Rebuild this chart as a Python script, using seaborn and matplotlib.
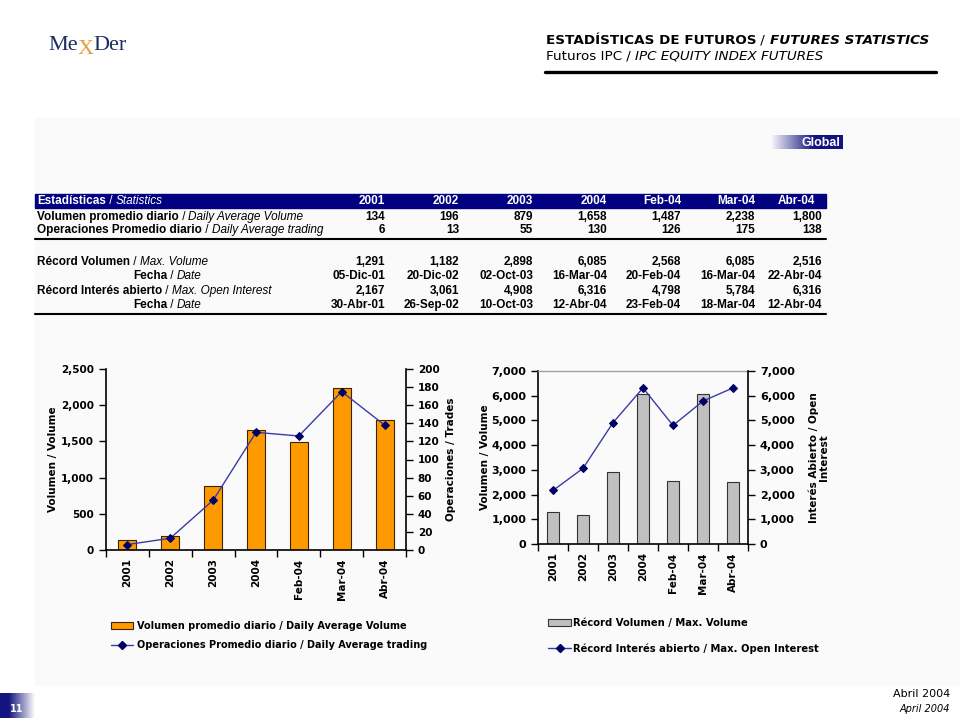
import numpy as np
import pandas as pd
import matplotlib
matplotlib.use('Agg')
import matplotlib.pyplot as plt
import matplotlib.ticker as ticker
from matplotlib.patches import Rectangle, Patch
from matplotlib.lines import Line2D
import seaborn as sns

# Data
categories = ['2001', '2002', '2003', '2004', 'Feb-04', 'Mar-04', 'Abr-04']
avg_volume = [134, 196, 879, 1658, 1487, 2238, 1800]
avg_trades = [6, 13, 55, 130, 126, 175, 138]
record_volume = [1291, 1182, 2898, 6085, 2568, 6085, 2516]
record_volume_date = ['05-Dic-01', '20-Dic-02', '02-Oct-03', '16-Mar-04', '20-Feb-04', '16-Mar-04', '22-Abr-04']
record_oi = [2167, 3061, 4908, 6316, 4798, 5784, 6316]
record_oi_date = ['30-Abr-01', '26-Sep-02', '10-Oct-03', '12-Abr-04', '23-Feb-04', '18-Mar-04', '12-Abr-04']

sns.set_theme(style='white')
plt.rcParams['font.family'] = ['DejaVu Sans']
plt.rcParams['text.color'] = 'black'
plt.rcParams['axes.labelcolor'] = 'black'
plt.rcParams['xtick.color'] = 'black'
plt.rcParams['ytick.color'] = 'black'

NAVY = '#000080'
ORANGE = '#FF9900'
LINE_BLUE = '#3b3ba8'
MARK_BLUE = '#000066'
TABLE_FONT = ['Liberation Sans']

fig = plt.figure(figsize=(9.6, 7.2), dpi=100)
fig.patch.set_facecolor('white')
renderer = fig.canvas.get_renderer()

# background axes in pixel coordinates
bg = fig.add_axes([0, 0, 1, 1])
bg.set_xlim(0, 960)
bg.set_ylim(720, 0)
bg.axis('off')


def runs(x, y, parts, size, color='black', family=None):
    # write text pieces one after the other on one line
    cx = x
    for s, w, st in parts:
        t = bg.text(cx, y, s, fontsize=size, fontweight=w, fontstyle=st, color=color,
                    va='center', ha='left', family=family)
        cx += t.get_window_extent(renderer=renderer).width
    return cx


def gradient(x0, x1, y0, y1, reverse=False, full=0.75):
    n = 200
    f = np.clip(np.linspace(0, 1, n) / full, 0, 1)
    if reverse:
        f = f[::-1]
    c0 = np.array([1.0, 1.0, 1.0])
    c1 = np.array([0x14, 0x14, 0x80]) / 255
    arr = c0[None, :] * (1 - f[:, None]) + c1[None, :] * f[:, None]
    bg.imshow(arr[None, :, :], extent=(x0, x1, y1, y0), aspect='auto', zorder=2)


# faint panel
bg.add_patch(Rectangle((35, 118), 925, 567, color='#fafafa', zorder=0))

# logo
LOGO = ['Liberation Serif']
cx = runs(48, 46, [('Me', 'normal', 'normal')], 16, color='#1c2d5e', family=LOGO)
t = bg.text(cx, 49, 'X', fontsize=16, color='#e0a040', va='center', ha='left', family=LOGO)
cx += t.get_window_extent(renderer=renderer).width
runs(cx, 46, [('Der', 'normal', 'normal')], 16, color='#1c2d5e', family=LOGO)

# header
runs(546, 40, [('ESTADÍSTICAS DE FUTUROS', 'bold', 'normal'), (' / ', 'normal', 'normal'),
               ('FUTURES STATISTICS', 'bold', 'italic')], 9.7)
runs(546, 56, [('Futuros IPC', 'normal', 'normal'), (' / ', 'normal', 'normal'),
               ('IPC EQUITY INDEX FUTURES', 'normal', 'italic')], 9.7)
bg.plot([545, 936], [72, 72], color='black', lw=2.4)

# "Global" tab
gradient(770, 843, 135, 149, full=0.6)
bg.text(840, 142.5, 'Global', color='white', fontsize=9, fontweight='bold', ha='right', va='center',
        family=TABLE_FONT, zorder=3)

# table
col_right = [385, 459, 533, 607, 681, 755, 822]
bg.add_patch(Rectangle((35, 194), 791, 13.5, color=NAVY, zorder=1))
runs(37, 201, [('Estadísticas', 'bold', 'normal'), (' / ', 'normal', 'normal'),
               ('Statistics', 'normal', 'italic')], 8.5, color='white', family=TABLE_FONT)
for c, xr in zip(categories, col_right):
    bg.text(xr if c != 'Abr-04' else 815, 201, c, color='white', fontsize=8.5, fontweight='bold',
            ha='right', va='center', family=TABLE_FONT)

table_rows = [
    (217, 37, 'Volumen promedio diario', 'Daily Average Volume', [f'{v:,}' for v in avg_volume]),
    (230, 37, 'Operaciones Promedio diario', 'Daily Average trading', [f'{v:,}' for v in avg_trades]),
    (262, 37, 'Récord Volumen', 'Max. Volume', [f'{v:,}' for v in record_volume]),
    (276, 133, 'Fecha', 'Date', record_volume_date),
    (291, 37, 'Récord Interés abierto', 'Max. Open Interest', [f'{v:,}' for v in record_oi]),
    (305, 133, 'Fecha', 'Date', record_oi_date),
]
for y, x0, es, en, vals in table_rows:
    runs(x0, y, [(es, 'bold', 'normal'), (' / ', 'normal', 'normal'), (en, 'normal', 'italic')],
         8.5, family=TABLE_FONT)
    for v, xr in zip(vals, col_right):
        bg.text(xr, y, v, fontsize=8.5, fontweight='bold', ha='right', va='center', family=TABLE_FONT)
bg.plot([35, 826], [239, 239], color='black', lw=1.5)
bg.plot([35, 826], [314, 314], color='black', lw=1.5)

# footer
gradient(0, 35, 693, 718, reverse=True)
bg.text(17, 709, '11', color='white', fontsize=7, fontweight='bold', ha='center', va='center', zorder=3)
bg.text(950, 694, 'Abril 2004', fontsize=8, ha='right', va='center')
bg.text(950, 709, 'April 2004', fontsize=7, fontstyle='italic', ha='right', va='center')

fmt = ticker.FuncFormatter(lambda v, _: f'{int(v):,}')
xpos = np.arange(len(categories))


def style_axes(ax, ax2, tick_size, xtick_size):
    ax.set_facecolor('none')
    ax.set_xlim(-0.5, len(categories) - 0.5)
    ax.set_xticks(np.arange(-0.5, len(categories), 1))
    ax.set_xticklabels([])
    ax.set_xticks(xpos, minor=True)
    ax.set_xticklabels(categories, minor=True, rotation=90, fontsize=xtick_size, fontweight='bold')
    ax.tick_params(axis='x', which='major', direction='out', length=5, width=1, color='black', bottom=True)
    ax.tick_params(axis='x', which='minor', length=0, pad=6)
    ax.set_xlabel('')
    for a, side in ((ax, 'left'), (ax2, 'right')):
        a.yaxis.set_major_formatter(fmt)
        a.tick_params(axis='y', direction='out', length=5, width=1, color='black', labelsize=tick_size)
        if side == 'left':
            a.tick_params(axis='y', left=True)
        else:
            a.tick_params(axis='y', right=True)
        for lab in a.get_yticklabels():
            lab.set_fontweight('bold')
    for a in (ax, ax2):
        for s in a.spines.values():
            s.set_visible(False)
    for s in ('left', 'bottom'):
        ax.spines[s].set_visible(True)
        ax.spines[s].set_color('black')
        ax.spines[s].set_linewidth(1.2)
    ax2.spines['right'].set_visible(True)
    ax2.spines['right'].set_color('black')
    ax2.spines['right'].set_linewidth(1.2)


# left chart
df1 = pd.DataFrame({'periodo': categories, 'volumen': avg_volume, 'operaciones': avg_trades})
ax = fig.add_axes([106 / 960, (720 - 550) / 720, 300 / 960, 181 / 720])
sns.barplot(data=df1, x='periodo', y='volumen', ax=ax, color=ORANGE, saturation=1, width=0.42,
            edgecolor='#3a2500', linewidth=0.8)
ax2 = ax.twinx()
sns.lineplot(x=xpos, y=df1['operaciones'], ax=ax2, color=LINE_BLUE, lw=1, marker='D', markersize=4,
             markerfacecolor=MARK_BLUE, markeredgecolor=MARK_BLUE)
ax.set_ylim(0, 2500)
ax.set_yticks(np.arange(0, 2501, 500))
ax2.set_ylim(0, 200)
ax2.set_yticks(np.arange(0, 201, 20))
style_axes(ax, ax2, 7.5, 7.5)
ax.set_ylabel('Volumen / Volume', fontsize=7.5, fontweight='bold')
ax.yaxis.set_label_coords(-0.16, 0.5)
ax2.set_ylabel('Operaciones / Trades', fontsize=7.5, fontweight='bold')
ax2.yaxis.set_label_coords(1.133, 0.5)
ax2.legend(handles=[Patch(facecolor=ORANGE, edgecolor='#3a2500', lw=0.8),
                    Line2D([], [], color=LINE_BLUE, lw=1, marker='D', markersize=4,
                           markerfacecolor=MARK_BLUE, markeredgecolor=MARK_BLUE)],
           labels=['Volumen promedio diario / Daily Average Volume',
                   'Operaciones Promedio diario / Daily Average trading'],
           loc='upper left', bbox_to_anchor=(111 / 960, (720 - 621) / 720), bbox_transform=fig.transFigure,
           frameon=False, borderpad=0, borderaxespad=0, handlelength=2.3, handleheight=0.8,
           handletextpad=0.4, labelspacing=0.95, prop={'size': 7, 'weight': 'bold'})

# right chart
df2 = pd.DataFrame({'periodo': categories, 'volumen': record_volume, 'interes': record_oi})
bx = fig.add_axes([538 / 960, (720 - 544) / 720, 210 / 960, 173 / 720])
sns.barplot(data=df2, x='periodo', y='volumen', ax=bx, color='#C0C0C0', saturation=1, width=0.43,
            edgecolor='#333333', linewidth=0.8)
bx2 = bx.twinx()
sns.lineplot(x=xpos, y=df2['interes'], ax=bx2, color=LINE_BLUE, lw=1, marker='D', markersize=4,
             markerfacecolor=MARK_BLUE, markeredgecolor=MARK_BLUE)
for a in (bx, bx2):
    a.set_ylim(0, 7000)
    a.set_yticks(np.arange(0, 7001, 1000))
style_axes(bx, bx2, 8, 7.5)
bx.spines['top'].set_visible(True)
bx.spines['top'].set_color('#a0a0a0')
bx.spines['top'].set_linewidth(1)
bx.set_ylabel('Volumen / Volume', fontsize=7.5, fontweight='bold')
bx.yaxis.set_label_coords(-0.229, 0.5)
bx2.set_ylabel('Interés Abierto / Open\nInterest', fontsize=7.5, fontweight='bold', linespacing=1.0)
bx2.yaxis.set_label_coords(1.29, 0.5)
bx2.legend(handles=[Patch(facecolor='#C0C0C0', edgecolor='#333333', lw=0.8),
                    Line2D([], [], color=LINE_BLUE, lw=1, marker='D', markersize=4,
                           markerfacecolor=MARK_BLUE, markeredgecolor=MARK_BLUE)],
           labels=['Récord Volumen / Max. Volume', 'Récord Interés abierto / Max. Open Interest'],
           loc='upper left', bbox_to_anchor=(548 / 960, (720 - 618) / 720), bbox_transform=fig.transFigure,
           frameon=False, borderpad=0, borderaxespad=0, handlelength=2.3, handleheight=0.8,
           handletextpad=0.2, labelspacing=1.55, prop={'size': 7.2, 'weight': 'bold'})

fig.savefig('out.png', dpi=100)
